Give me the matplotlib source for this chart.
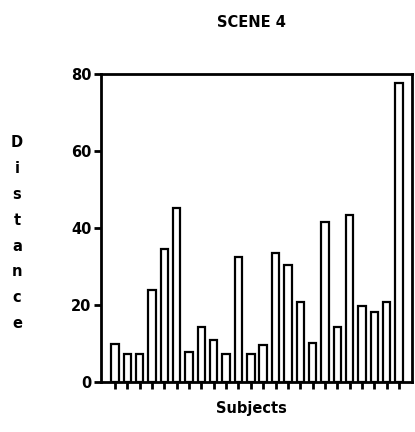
import matplotlib
matplotlib.use("Agg")
import matplotlib.pyplot as plt

# bar heights, subjects 1..24
subjects = list(range(1, 25))
distance = [9.8, 7.1, 7.1, 23.8, 34.6, 45.2, 7.6, 14.2, 10.8, 7.1, 32.4, 7.2,
            9.5, 33.5, 30.3, 20.7, 10.1, 41.6, 14.3, 43.3, 19.7, 18.2, 20.8, 77.6]
y_ticks = [0, 20, 40, 60, 80]
title = "SCENE 4"
x_label = "Subjects"
y_label = "Distance"

fig = plt.figure(figsize=(4.15, 4.32), dpi=100)
ax = fig.add_axes([0.2434, 0.1164, 0.7494, 0.7123])

ax.bar(subjects, distance, width=0.6, color="white", edgecolor="black",
       linewidth=1.6)

ax.set_xlim(-0.13, 25.05)
ax.set_ylim(0, 80)
ax.set_yticks(y_ticks)
ax.set_xticks(subjects)
ax.set_xticklabels([])
ax.set_yticklabels([str(t) for t in y_ticks], fontsize=10.5, fontweight="bold")

for s in ax.spines.values():
    s.set_linewidth(2)
ax.tick_params(axis="y", direction="out", length=5, width=2, pad=2)
ax.tick_params(axis="x", direction="out", length=5, width=2)

fig.text(0.605, 0.948, title, ha="center", va="center", fontsize=10.5,
         fontweight="bold")
fig.text(0.607, 0.055, x_label, ha="center", va="center", fontsize=10.5,
         fontweight="bold")
fig.text(0.041, 0.46, "\n".join(y_label), ha="center", va="center",
         fontsize=10.5, fontweight="bold", linespacing=1.9)

fig.savefig("out.png", dpi=100)
